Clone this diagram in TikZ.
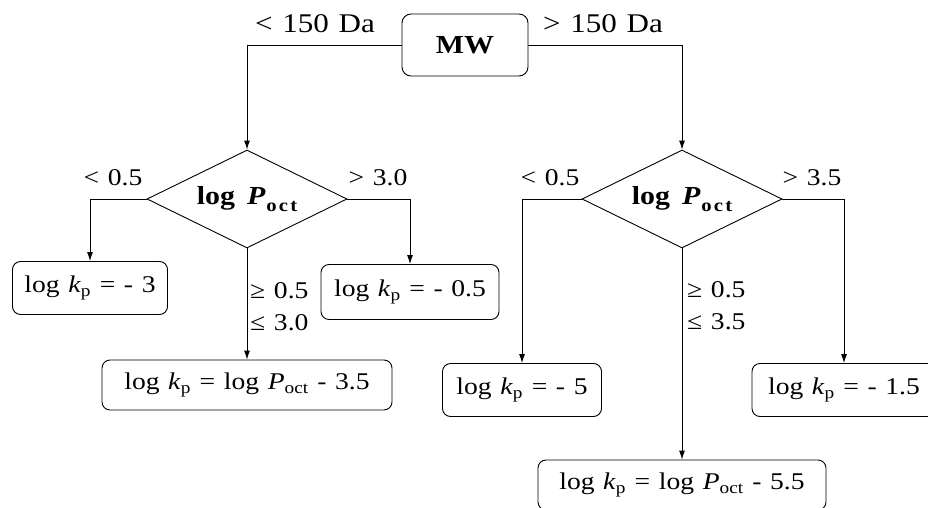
\documentclass[tikz,border=0pt]{standalone}
\usepackage{fontspec}
\setmainfont{Liberation Serif}[FakeStretch=1.15, WordSpace=1.25]
\usetikzlibrary{shapes.geometric,arrows.meta}
\newcommand{\octsub}{\raisebox{-7pt}{\fontsize{18}{20}\selectfont\addfontfeature{LetterSpace=12}oct}}
\newcommand{\diatext}{log\hspace{12pt}\textit{P}\hspace{1pt}\octsub}
\begin{document}
\begin{tikzpicture}[x=1pt,y=-1pt,
  box/.style={draw, rounded corners=8pt, line width=0.9pt, minimum width=#1, minimum height=53pt, inner sep=0pt, font=\fontsize{24}{28}\selectfont},
  dia/.style={draw, diamond, aspect=2, minimum width=200pt, minimum height=98pt, inner sep=0pt, line width=0.9pt, font=\fontsize{26}{30}\selectfont\bfseries},
  toplab/.style={font=\fontsize{27}{30}\selectfont, inner sep=0pt},
  lab/.style={font=\fontsize{24}{28}\selectfont, inner sep=0pt},
  arr/.style={-{Latex[length=9pt,width=6pt]}, line width=0.9pt},
]
\useasboundingbox (0,0) rectangle (928,508);
\clip (0,0) rectangle (928,508);

\node[draw, rounded corners=9pt, line width=0.9pt, minimum width=126pt, minimum height=62pt, inner sep=0pt, font=\fontsize{26}{30}\selectfont\bfseries] (mw) at (465,45) {MW};

\node[dia] (d1) at (247,199) {\diatext};
\node[dia] (d2) at (682,199) {\diatext};

\node[box=155pt] (b1) at (90,288) {log \textit{k}\textsubscript{p} = - 3};
\node[box=178pt, minimum height=55pt] (b2) at (410,292) {log \textit{k}\textsubscript{p} = - 0.5};
\node[box=290pt, minimum height=50pt] (b3) at (247,385) {log \textit{k}\textsubscript{p} = log \textit{P}\textsubscript{oct} - 3.5};
\node[box=159pt] (b4) at (522,390) {log \textit{k}\textsubscript{p} = - 5};
\node[box=184pt] (b5) at (844,390) {log \textit{k}\textsubscript{p} = - 1.5};
\node[box=288pt, minimum height=50pt] (b6) at (682,485) {log \textit{k}\textsubscript{p} = log \textit{P}\textsubscript{oct} - 5.5};

\draw[arr] (mw.west) -| (d1.north);
\draw[arr] (mw.east) -| (d2.north);
\draw[arr] (d1.west) -| (b1.north);
\draw[arr] (d1.east) -| (b2.north);
\draw[arr] (d1.south) -- (b3.north);
\draw[arr] (d2.west) -| (b4.north);
\draw[arr] (d2.east) -| (b5.north);
\draw[arr] (d2.south) -- (b6.north);

\node[toplab] (l1) at (315,24) {< 150 Da};
\node[toplab] (l2) at (603,24) {> 150 Da};
\node[lab] (l3) at (113,178) {< 0.5};
\node[lab] (l4) at (378,178) {> 3.0};
\node[lab] (l5) at (550,178) {< 0.5};
\node[lab] (l6) at (812,178) {> 3.5};
\node[lab, anchor=west] (l7) at (250,291) {≥ 0.5};
\node[lab, anchor=west] (l8) at (250,323) {≤ 3.0};
\node[lab, anchor=west] (l9) at (687,290) {≥ 0.5};
\node[lab, anchor=west] (l10) at (687,322) {≤ 3.5};
\end{tikzpicture}
\end{document}
